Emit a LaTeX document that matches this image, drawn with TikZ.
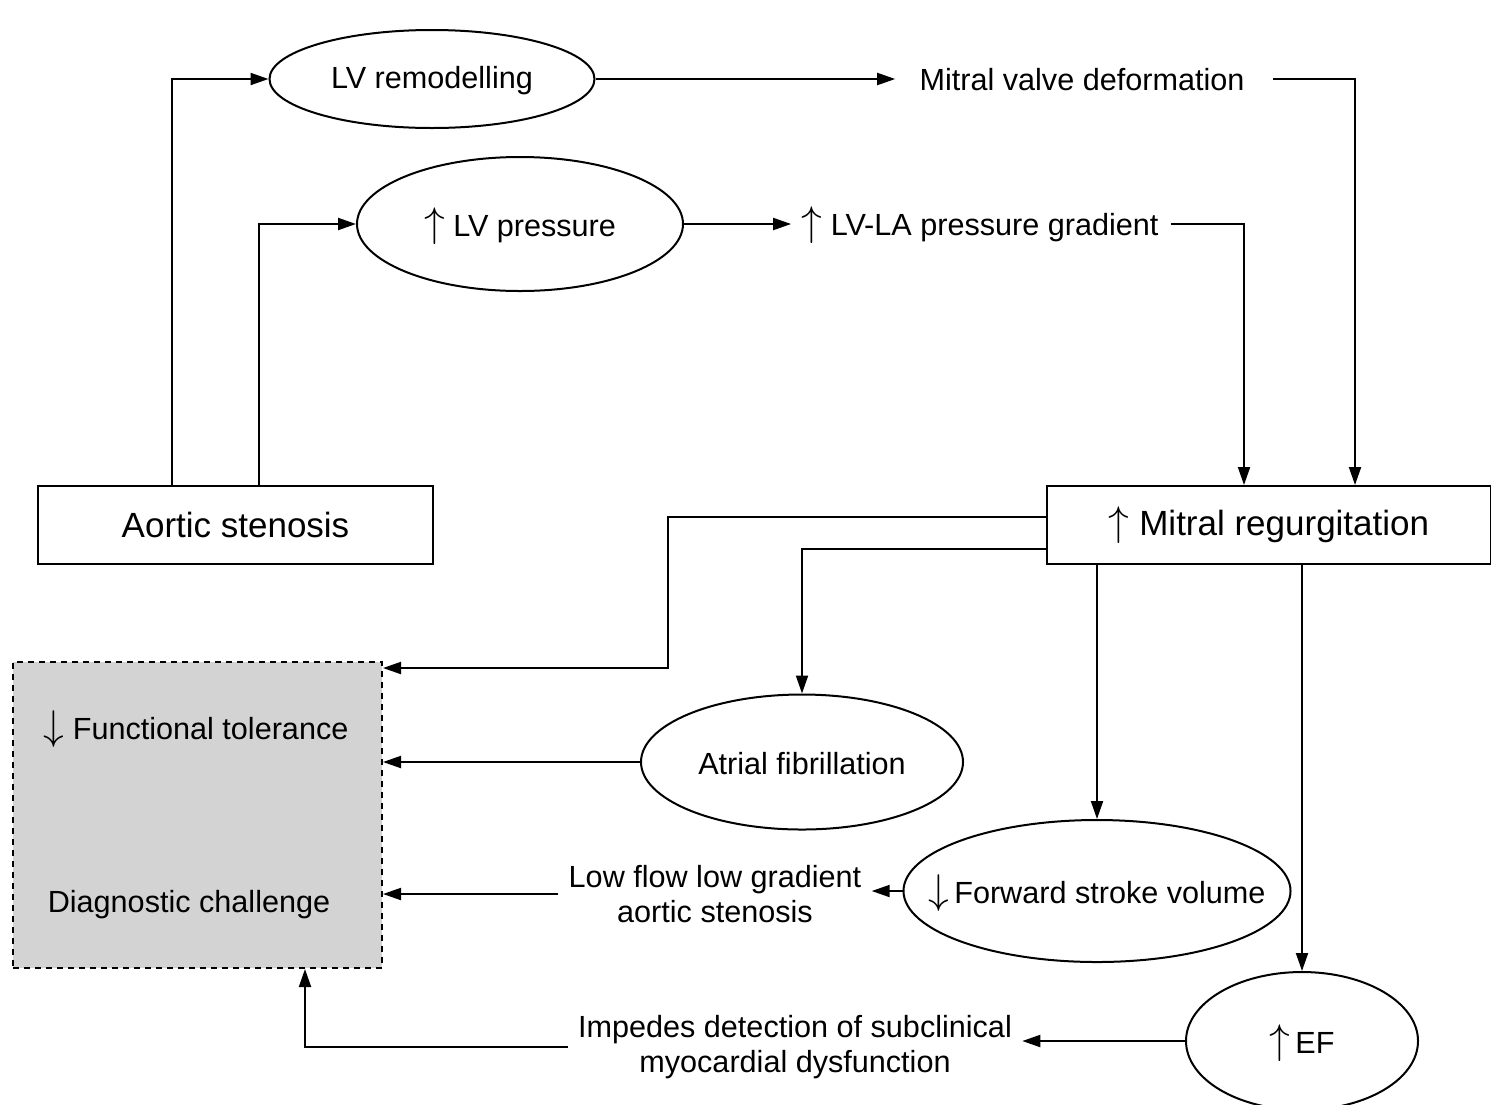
\documentclass[tikz,border=0pt]{standalone}
\usepackage{fontspec}
\setmainfont{Liberation Sans}
\usetikzlibrary{shapes.geometric,arrows.meta,calc}
\definecolor{boxgray}{RGB}{211,211,211}
\newcommand{\UpA}{{\fontsize{20}{20}\selectfont$\uparrow$}}
\newcommand{\DnA}{{\fontsize{20}{20}\selectfont$\downarrow$}}
\begin{document}
\begin{tikzpicture}[x=0.5pt,y=-0.5pt,
  every node/.style={font=\fontsize{15.3}{17.5}\selectfont},
  ell/.style={ellipse,draw,line width=1pt,inner sep=0pt},
  rbox/.style={rectangle,draw,line width=1pt,font=\fontsize{17.5}{20}\selectfont},
  dbox/.style={rectangle,draw,line width=1pt,dash pattern=on 3pt off 2.5pt,fill=boxgray},
  txt/.style={align=center,inner sep=5pt},
  arr/.style={line width=1pt,-{Triangle[length=9pt,width=6pt]}},
  ln/.style={line width=1pt}]
\useasboundingbox (0,0) rectangle (1491,1104);
\fill[white] (0,0) rectangle (1491,1104);

% nodes
\node[ell,minimum width=162.5pt,minimum height=49pt,label={[yshift=-1pt]center:LV remodelling}] (lvr) at (432,79) {};
\node[ell,minimum width=163pt,minimum height=67pt,label={[yshift=-1pt]center:\UpA{} LV pressure}] (lvp) at (520,224) {};
\node[txt] (mvd) at (1082,80) {Mitral valve deformation};
\node[txt] (grad) at (980,225) {\UpA{} LV-LA pressure gradient};
\node[rbox,minimum width=197.5pt,minimum height=39pt] (as) at (235.5,525) {Aortic stenosis};
\node[rbox,minimum width=222pt,minimum height=39pt] (mr) at (1269,525) {\UpA{} Mitral regurgitation};
\node[dbox,minimum width=184.5pt,minimum height=153pt] (dc) at (197.5,815) {};
\node (ft) at (196,729) {\DnA{} Functional tolerance};
\node (dg) at (189,905) {Diagnostic challenge};
\node[ell,minimum width=161pt,minimum height=67.5pt,label={[yshift=-1pt]center:Atrial fibrillation}] (af) at (802,762) {};
\node[ell,minimum width=193.5pt,minimum height=71pt,label={[yshift=-1pt]center:\DnA{}\,Forward stroke volume}] (fsv) at (1097,891) {};
\node[txt] (lf) at (715,894) {Low flow low gradient\\aortic stenosis};
\node[ell,minimum width=116pt,minimum height=69pt,label={[yshift=-1pt]center:\UpA{}\,EF}] (ef) at (1302,1041) {};
\node[txt] (imp) at (795,1047) {Impedes detection of subclinical\\myocardial dysfunction};

% connectors
\draw[arr] ($(as.north west)+(135,0)$) |- (lvr.west);
\draw[arr] ($(as.north west)+(222,0)$) |- (lvp.west);
\draw[arr,shorten >=7pt] (lvr.east) -- (lvr.east -| mvd.west);
\draw[arr] (lvp.east) -- (lvp.east -| grad.west);
\draw[arr,shorten <=9pt] (mvd.east |- lvr.east) -| ($(mr.north west)+(309,0)$);
\draw[arr,shorten <=1pt] (grad.east |- lvp.east) -| ($(mr.north west)+(198,0)$);
\draw[arr] ($(mr.north west)+(0,32)$) -- ++(-378,0) |- ($(dc.north east)+(0,7)$);
\draw[arr] ($(mr.north west)+(0,64)$) -| (af.north);
\draw[arr] (af.west) -- (af.west -| dc.east);
\draw[arr] (fsv.north |- mr.south) -- (fsv.north);
\draw[arr] (ef.north |- mr.south) -- (ef.north);
\draw[arr] (fsv.west) -- (fsv.west -| lf.east);
\draw[arr] (lf.west) -- (lf.west -| dc.east);
\draw[arr] (ef.west) -- (ef.west -| imp.east);
\draw[arr] (imp.west) -| ($(dc.south west)+(293,0)$);
\end{tikzpicture}
\end{document}
